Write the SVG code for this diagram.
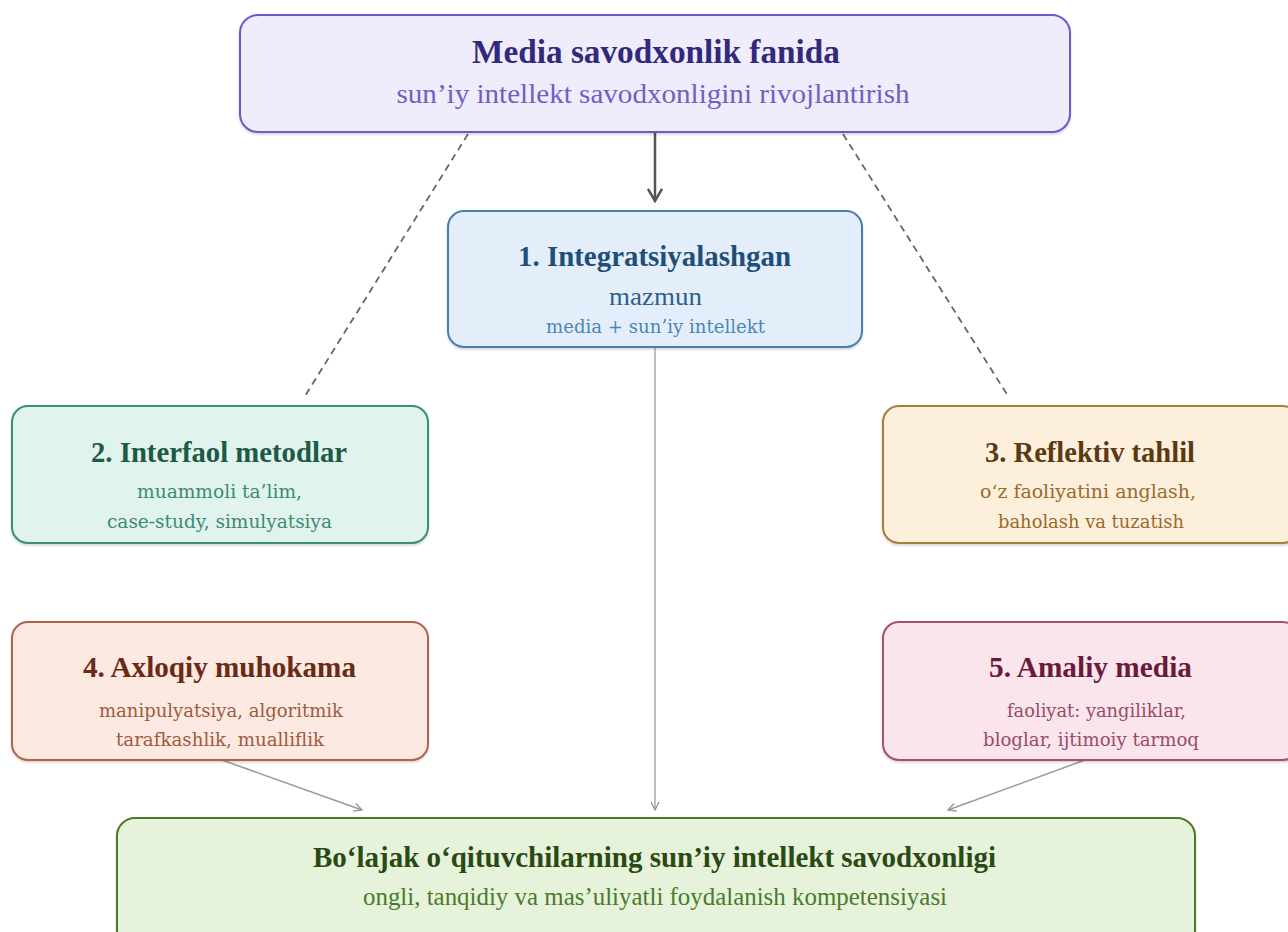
<svg xmlns="http://www.w3.org/2000/svg" width="1288" height="932" viewBox="0 0 1288 932">
<style>
text{font-family:"Liberation Serif","DejaVu Serif",serif;text-anchor:middle}
.t{font-weight:bold;font-size:29px}
.s{font-family:"DejaVu Serif","Liberation Serif",serif;font-size:19px}
.box{stroke-width:2;filter:url(#sh)}
</style>
<defs>
<filter id="sh" x="-5%" y="-5%" width="110%" height="120%"><feDropShadow dx="0" dy="1.5" stdDeviation="1" flood-color="#000" flood-opacity="0.18"/></filter>
<marker id="ah" viewBox="0 0 16 16" refX="14" refY="8" markerWidth="16" markerHeight="16" markerUnits="userSpaceOnUse" orient="auto"><path d="M2,1 L14,8 L2,15" fill="none" stroke="#555" stroke-width="2.5"/></marker>
<marker id="as" viewBox="0 0 10 10" refX="9" refY="5" markerWidth="10" markerHeight="10" markerUnits="userSpaceOnUse" orient="auto"><path d="M1,1 L9,5 L1,9" fill="none" stroke="#999" stroke-width="1.4"/></marker>
</defs>
<rect width="1288" height="932" fill="#fff"/>
<g id="connectors">
<line x1="655" y1="133" x2="655" y2="201" stroke="#555" stroke-width="2.5" marker-end="url(#ah)"/>
<line x1="468" y1="134" x2="305" y2="396" stroke="#666" stroke-width="1.8" stroke-dasharray="7,5"/>
<line x1="843" y1="134" x2="1008" y2="396" stroke="#666" stroke-width="1.8" stroke-dasharray="7,5"/>
<line x1="655" y1="348" x2="655" y2="810" stroke="#aaa" stroke-width="1.5" marker-end="url(#as)"/>
<line x1="222" y1="760" x2="362" y2="810" stroke="#999" stroke-width="1.5" marker-end="url(#as)"/>
<line x1="1085" y1="760" x2="948" y2="810" stroke="#999" stroke-width="1.5" marker-end="url(#as)"/>
</g>
<g id="top">
<rect x="240" y="15" width="830" height="117" rx="18" fill="#efecfc" stroke="#6a5acd" class="box"/>
<text x="656" y="63" class="t" style="font-size:33px" fill="#33297a" textLength="368" lengthAdjust="spacingAndGlyphs">Media savodxonlik fanida</text>
<text x="653" y="103" style="font-size:28px" fill="#6e5fc4" textLength="513" lengthAdjust="spacingAndGlyphs">sun’iy intellekt savodxonligini rivojlantirish</text>
</g>
<g id="n1">
<rect x="448" y="211" width="414" height="136" rx="16" fill="#e3eefa" stroke="#4a7fb0" class="box"/>
<text x="654.5" y="266" class="t" fill="#1f4e79" textLength="273" lengthAdjust="spacingAndGlyphs">1. Integratsiyalashgan</text>
<text x="655.5" y="305" style="font-size:26px" fill="#2d5f8a" textLength="93" lengthAdjust="spacingAndGlyphs">mazmun</text>
<text x="655.5" y="333" class="s" fill="#4a86b8" textLength="219" lengthAdjust="spacingAndGlyphs">media + sun’iy intellekt</text>
</g>
<g id="n2">
<rect x="12" y="406" width="416" height="137" rx="16" fill="#e0f3ec" stroke="#3d8f72" class="box"/>
<text x="219" y="462" class="t" fill="#1d5a45" textLength="256" lengthAdjust="spacingAndGlyphs">2. Interfaol metodlar</text>
<text x="219.5" y="498" class="s" fill="#3d8a70" textLength="165" lengthAdjust="spacingAndGlyphs">muammoli ta’lim,</text>
<text x="219.5" y="528" class="s" fill="#3d8a70" textLength="225" lengthAdjust="spacingAndGlyphs">case-study, simulyatsiya</text>
</g>
<g id="n3">
<rect x="883" y="406" width="416" height="137" rx="16" fill="#fcefdc" stroke="#a87c3a" class="box"/>
<text x="1090" y="462" class="t" fill="#5a3a12" textLength="210" lengthAdjust="spacingAndGlyphs">3. Reflektiv tahlil</text>
<text x="1088" y="498" class="s" fill="#9a6a2a" textLength="216" lengthAdjust="spacingAndGlyphs">o‘z faoliyatini anglash,</text>
<text x="1091" y="528" class="s" fill="#9a6a2a" textLength="186" lengthAdjust="spacingAndGlyphs">baholash va tuzatish</text>
</g>
<g id="n4">
<rect x="12" y="622" width="416" height="138" rx="16" fill="#fbe9e2" stroke="#b0644a" class="box"/>
<text x="219.5" y="677" class="t" fill="#6a2a14" textLength="273" lengthAdjust="spacingAndGlyphs">4. Axloqiy muhokama</text>
<text x="221" y="717" class="s" fill="#a05a40" textLength="244" lengthAdjust="spacingAndGlyphs">manipulyatsiya, algoritmik</text>
<text x="220" y="746" class="s" fill="#a05a40" textLength="208" lengthAdjust="spacingAndGlyphs">tarafkashlik, mualliflik</text>
</g>
<g id="n5">
<rect x="883" y="622" width="416" height="138" rx="16" fill="#fbe5ec" stroke="#a8506e" class="box"/>
<text x="1090.5" y="677" class="t" fill="#6a1a3a" textLength="203" lengthAdjust="spacingAndGlyphs">5. Amaliy media</text>
<text x="1096.5" y="717" class="s" fill="#9a4a68" textLength="179" lengthAdjust="spacingAndGlyphs">faoliyat: yangiliklar,</text>
<text x="1091" y="746" class="s" fill="#9a4a68" textLength="216" lengthAdjust="spacingAndGlyphs">bloglar, ijtimoiy tarmoq</text>
</g>
<g id="bottom">
<rect x="117" y="818" width="1078" height="130" rx="18" fill="#e6f2da" stroke="#4a7a2a" class="box"/>
<text x="654.5" y="867" class="t" style="font-size:30px" fill="#2a4a14" textLength="683" lengthAdjust="spacingAndGlyphs">Bo‘lajak o‘qituvchilarning sun’iy intellekt savodxonligi</text>
<text x="655" y="905" style="font-size:25px" fill="#4a7a2a" textLength="584" lengthAdjust="spacingAndGlyphs">ongli, tanqidiy va mas’uliyatli foydalanish kompetensiyasi</text>
</g>
</svg>
